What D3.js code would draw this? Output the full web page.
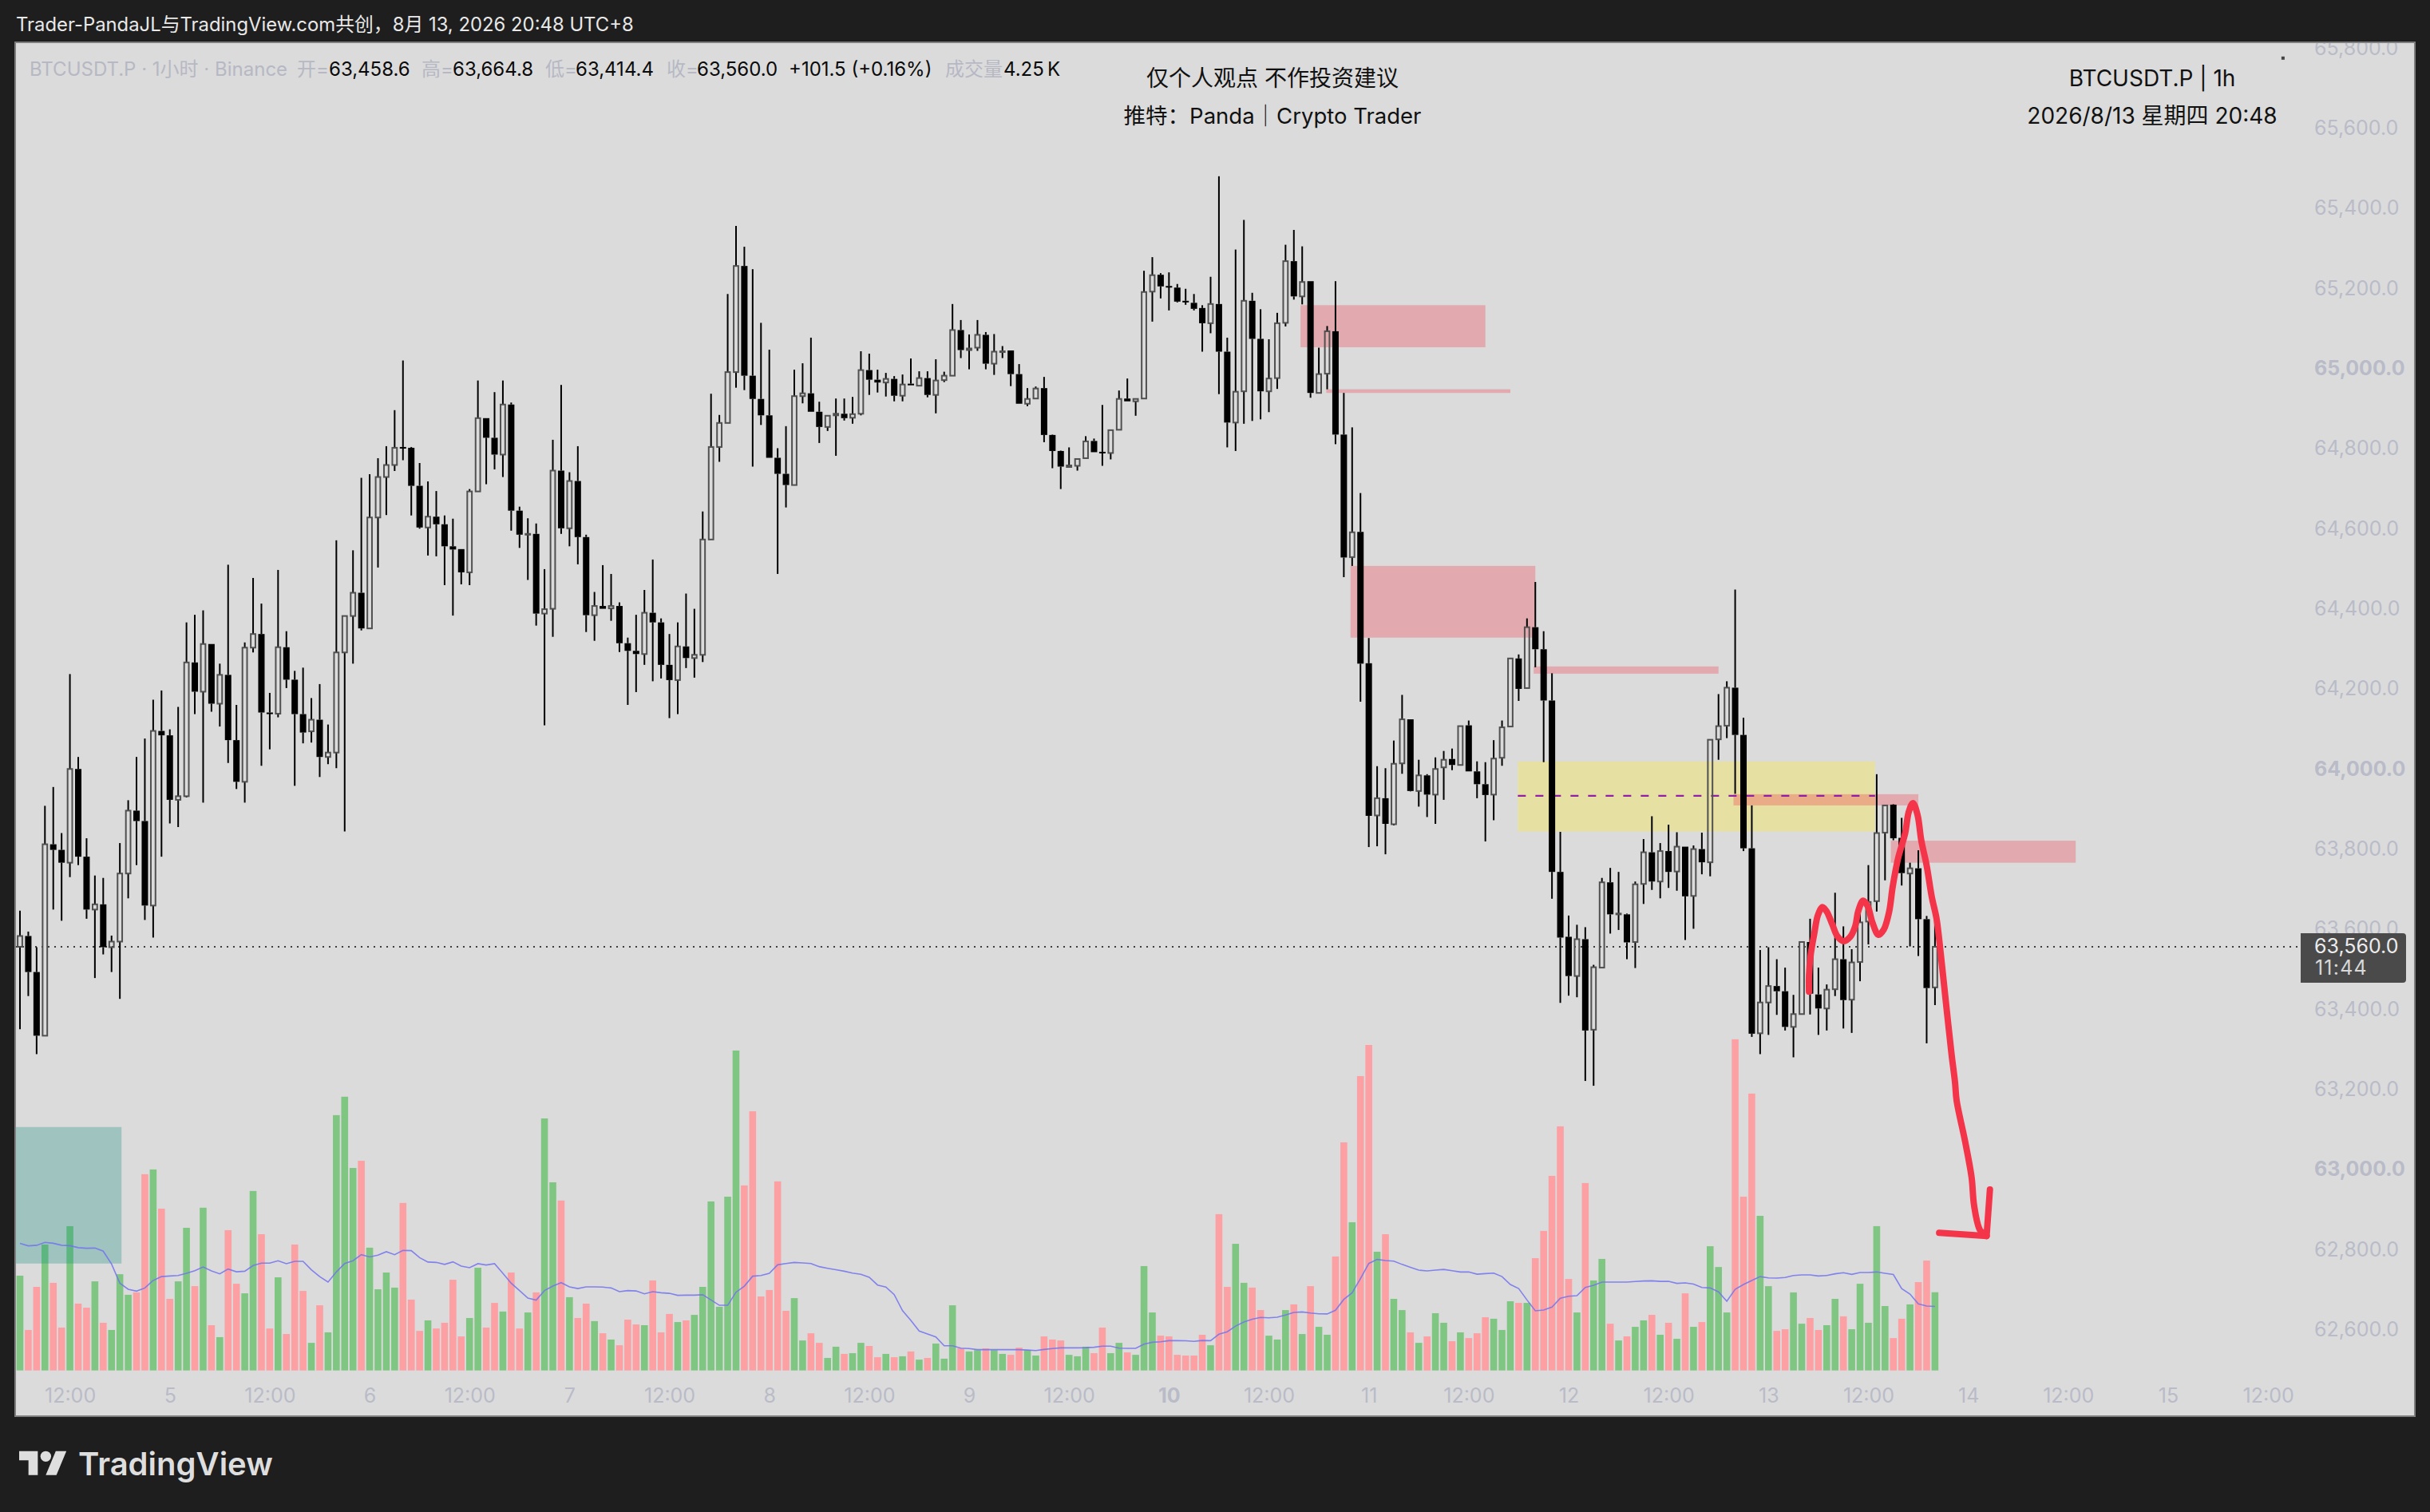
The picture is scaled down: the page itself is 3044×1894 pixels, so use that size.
<!DOCTYPE html>
<html><head><meta charset="utf-8">
<script src="https://cdn.jsdelivr.net/npm/d3@7/dist/d3.min.js"></script>
<style>html,body{margin:0;padding:0;background:#1e1e1e}svg{display:block}text{font-family:Inter,"Noto Sans CJK SC",sans-serif}</style>
</head><body><svg id="c" width="3044" height="1894"></svg>
<script>
const opens=[63560,63587,63497,63338,63816,63802,63770,64004,63785,63653,
63666,63559,63573,63743,63900,63874,63663,64099,64088,63927,
63936,64270,64197,64316,64167,64239,64076,63972,64307,64341,
64145,64142,64308,64227,64141,64098,64127,64034,64045,64295,
64386,64444,64355,64632,64733,64763,64808,64806,64711,64607,
64634,64615,64560,64553,64495,64697,64880,64831,64789,64914,
64649,64589,64591,64392,64404,64749,64605,64723,64583,64388,
64411,64405,64411,64318,64299,64291,64394,64370,64264,64226,
64310,64281,64289,64577,64808,64868,64995,65260,64986,64928,
64887,64781,64741,64713,64935,64942,64896,64858,64887,64891,
64881,64891,65000,64976,64969,64978,64936,64966,64961,64980,
64938,64975,64986,65100,65050,65056,65088,65016,65045,65049,
64990,64916,64929,64955,64838,64798,64758,64761,64780,64823,
64796,64793,64851,64929,64922,64929,65196,65238,65210,65206,
65173,65168,65155,65117,65165,65046,64869,64947,65173,65078,
64947,64980,65118,65272,65184,65222,64943,64991,65097,64839,
64533,64596,64268,63888,63931,63866,64018,64128,63949,63988,
63940,64008,64029,64014,64113,63998,63966,63940,64032,64110,
64280,64206,64358,64303,64175,63747,63585,63487,63579,63353,
63508,63721,63641,63641,63572,63717,63796,63723,63799,63748,
63810,63687,63804,63771,64078,64112,64207,64089,63806,63344,
63421,63462,63449,63360,63392,63572,63441,63406,63454,63529,
63428,63522,63623,63674,63845,63915,63832,63743,63756,63629,
63458.6];
const closes=[63587,63497,63338,63816,63802,63770,64004,63785,63653,63666,
63559,63573,63743,63900,63874,63663,64099,64088,63927,63936,
64270,64197,64316,64167,64239,64076,63972,64307,64341,64145,
64142,64308,64227,64141,64095,64127,64034,64045,64295,64386,
64444,64355,64632,64733,64763,64806,64806,64711,64607,64634,
64615,64560,64552,64495,64697,64880,64831,64789,64914,64649,
64589,64591,64392,64403,64749,64605,64723,64583,64388,64411,
64404,64411,64318,64299,64291,64394,64370,64264,64226,64310,
64281,64289,64577,64808,64868,64995,65260,64986,64928,64887,
64781,64741,64713,64935,64942,64896,64858,64886,64891,64880,
64890,65000,64976,64969,64978,64936,64964,64964,64980,64938,
64974,64986,65100,65050,65054,65088,65016,65046,65047,64990,
64916,64928,64954,64838,64798,64759,64762,64778,64822,64795,
64795,64850,64928,64922,64928,65195,65237,65209,65209,65171,
65172,65153,65117,65165,65046,64869,64946,65173,65078,64947,
64979,65117,65272,65184,65220,64943,64990,65097,64839,64532,
64595,64267,63887,63931,63867,64017,64128,63949,63988,63940,
64004,64027,64014,64111,63998,63966,63939,64030,64108,64280,
64204,64358,64303,64175,63747,63583,63487,63579,63351,63509,
63721,63641,63643,63571,63716,63796,63723,63799,63747,63810,
63686,63804,63771,64077,64111,64207,64089,63806,63343,63421,
63462,63449,63360,63392,63572,63443,63406,63453,63529,63427,
63521,63621,63672,63844,63913,63831,63744,63756,63629,63457,
63560];
const highs=[63650,63598,63559,63912,63959,63844,64241,64034,63831,63738,
63732,63588,63819,63926,64034,64080,64177,64200,64103,64159,
64370,64389,64400,64316,64267,64514,64164,64320,64481,64417,
64194,64501,64348,64249,64257,64181,64216,64115,64575,64386,
64550,64731,64740,64780,64810,64900,65024,64808,64768,64722,
64698,64637,64629,64553,64703,64974,64880,64945,64974,64919,
64659,64630,64617,64503,64826,64963,64745,64810,64589,64446,
64513,64491,64420,64332,64389,64451,64527,64380,64341,64370,
64442,64404,64647,64941,64888,65190,65360,65308,65252,65118,
65051,64805,64860,65001,65017,65081,64921,64886,64929,64929,
64933,65047,65041,65001,64993,64985,64989,65029,64997,64997,
65027,64996,65165,65125,65089,65125,65095,65090,65060,65049,
65015,64955,64959,64983,64839,64799,64807,64778,64835,64829,
64913,64850,64949,64979,64929,65248,65282,65242,65244,65215,
65203,65190,65162,65233,65484,65081,65301,65375,65193,65152,
65077,65143,65313,65350,65309,65222,65056,65110,65222,64943,
64857,64693,64331,64011,64006,64075,64189,64128,64027,63991,
64033,64049,64055,64111,64125,64023,64021,64076,64125,64281,
64290,64380,64471,64348,64243,63847,63638,63615,63609,63515,
63732,63757,63747,63643,63723,63829,63886,63819,63865,63846,
63810,63813,63845,64077,64191,64223,64452,64132,63913,63552,
63559,63529,63508,63440,63573,63630,63508,63466,63695,63611,
63554,63670,63764,63991,63913,63916,63882,63770,63801,63637,
63664.8];
const lows=[63354,63437,63292,63338,63653,63625,63734,63764,63630,63482,
63541,63497,63430,63681,63764,63627,63583,63785,63868,63859,
63933,64141,63920,64147,64110,64019,63954,63920,64295,64012,
64053,64133,64206,63962,64068,64070,63984,64016,64006,63848,
64267,64350,64355,64507,64638,64748,64775,64637,64604,64537,
64535,64463,64387,64465,64463,64697,64715,64752,64733,64599,
64556,64476,64362,64113,64334,64591,64560,64515,64346,64324,
64404,64374,64296,64164,64196,64264,64223,64230,64131,64141,
64256,64232,64271,64577,64771,64868,64956,64950,64759,64863,
64781,64491,64657,64713,64917,64896,64818,64848,64786,64874,
64866,64887,64938,64944,64934,64922,64922,64964,64961,64932,
64892,64970,64986,65030,65002,65048,65002,64988,65030,64960,
64916,64910,64929,64820,64755,64703,64758,64749,64780,64795,
64761,64777,64851,64922,64886,64929,65121,65179,65149,65169,
65163,65149,65046,65092,64940,64807,64798,64866,64873,64877,
64895,64953,65109,65176,65164,64931,64943,64952,64815,64483,
64511,64172,63809,63811,63791,63863,63992,63948,63910,63884,
63867,63927,64001,64014,63998,63931,63823,63876,64012,64110,
64174,64206,64258,64021,63680,63420,63438,63434,63225,63213,
63508,63593,63602,63529,63507,63667,63702,63681,63707,63700,
63577,63605,63741,63736,64027,64081,63942,63799,63335,63292,
63340,63390,63351,63284,63392,63391,63340,63351,63437,63356,
63345,63474,63566,63648,63726,63826,63713,63561,63537,63319,
63414.4];
const volumes=[5.15,2.20,4.54,6.84,4.76,2.33,7.84,3.63,3.41,4.84,
2.59,2.20,5.23,4.11,4.24,10.66,10.92,8.79,3.89,4.84,
7.75,4.58,8.84,2.46,1.81,7.62,4.71,4.19,9.75,7.40,
2.28,5.06,1.98,6.84,4.32,1.50,3.54,2.07,13.87,14.87,
11.00,11.39,6.67,4.41,5.32,4.50,9.10,3.85,2.15,2.72,
2.28,2.59,4.93,1.85,2.85,5.58,2.33,3.67,3.20,5.32,
2.28,3.15,4.24,13.69,10.22,9.23,3.98,2.85,3.63,2.68,
2.02,1.68,1.37,2.76,2.50,2.46,4.89,2.07,3.07,2.63,
2.72,3.02,4.54,9.18,3.46,9.44,17.38,10.05,14.08,4.02,
4.37,10.27,3.24,3.93,1.63,2.02,1.50,0.68,1.29,0.90,
0.94,1.50,1.33,0.72,0.90,0.72,0.77,1.03,0.59,0.68,
1.46,0.64,3.54,1.20,1.03,1.11,1.20,1.11,0.90,0.85,
1.24,1.11,0.81,1.85,1.68,1.63,0.85,0.77,1.29,0.94,
2.33,0.94,1.50,0.98,0.85,5.67,3.15,1.89,1.85,0.85,
0.81,0.81,1.94,1.37,8.49,4.54,6.88,4.76,4.50,3.28,
1.89,1.68,3.28,3.59,1.98,4.58,2.37,1.94,6.19,12.39,
8.05,15.99,17.68,6.45,7.40,3.89,3.28,2.07,1.50,1.85,
3.11,2.59,1.59,2.07,1.76,2.02,2.89,2.81,2.20,3.76,
3.67,3.67,6.10,7.58,10.57,13.26,4.97,3.15,10.18,4.89,
6.06,2.54,1.63,1.85,2.37,2.72,3.02,1.94,2.59,1.72,
4.19,2.37,2.63,6.75,5.62,3.15,17.99,9.44,15.04,8.40,
4.58,2.15,2.24,4.24,2.54,2.85,2.20,2.46,3.89,2.94,
2.24,4.71,2.59,7.84,3.50,1.76,2.81,3.59,4.80,5.97,
4.25];
const volumeMA=[6.90,6.77,6.80,6.96,6.91,6.80,6.78,6.67,6.64,6.65,
6.48,5.78,4.74,4.41,4.31,4.48,4.89,5.10,5.13,5.16,
5.28,5.42,5.62,5.41,5.25,5.51,5.36,5.39,5.70,5.83,
5.83,5.96,5.80,5.93,5.93,5.47,5.10,4.80,5.35,5.81,
5.96,6.29,6.17,6.26,6.45,6.29,6.52,6.51,6.13,5.89,
5.87,5.76,5.90,5.67,5.58,5.80,5.73,5.80,5.28,4.74,
4.34,3.93,3.82,4.34,4.58,4.77,4.54,4.45,4.54,4.54,
4.53,4.48,4.28,4.34,4.32,4.16,4.28,4.22,4.19,4.08,
4.09,4.09,4.11,3.83,3.54,3.54,4.25,4.58,5.12,5.16,
5.28,5.74,5.81,5.87,5.84,5.81,5.64,5.55,5.47,5.39,
5.29,5.22,5.06,4.64,4.53,4.12,3.25,2.72,2.14,1.98,
1.82,1.34,1.34,1.21,1.19,1.13,1.13,1.13,1.13,1.13,
1.13,1.11,1.08,1.14,1.19,1.23,1.23,1.23,1.24,1.26,
1.32,1.32,1.21,1.20,1.20,1.43,1.53,1.56,1.62,1.62,
1.61,1.58,1.63,1.62,1.97,2.10,2.41,2.63,2.78,2.88,
2.86,2.89,3.01,3.15,3.18,3.12,3.08,3.07,3.27,3.86,
4.22,4.99,5.81,6.03,5.97,5.94,5.76,5.60,5.45,5.41,
5.45,5.49,5.42,5.35,5.35,5.23,5.26,5.29,5.10,4.67,
4.45,3.83,3.24,3.28,3.44,3.92,4.03,4.06,4.51,4.63,
4.80,4.80,4.80,4.80,4.83,4.86,4.87,4.84,4.84,4.73,
4.76,4.69,4.51,4.48,4.27,3.76,4.41,4.67,4.89,5.10,
5.03,5.02,5.05,5.16,5.19,5.19,5.13,5.16,5.25,5.31,
5.22,5.32,5.32,5.35,5.28,5.21,4.45,4.15,3.62,3.50,
3.48];
const priceTicks=[65800,65600,65400,65200,65000,64800,64600,64400,64200,64000,63800,63600,63400,63200,63000,62800,62600];
const boldPrices=[65000,64000,63000];
const timeTickIdx=[6,18,30,42,54,66,78,90,102,114,126,138,150,162,174,186,198,210,222,234,246,258,270];
const timeTickLabels=["12:00","5","12:00","6","12:00","7","12:00","8","12:00","9","12:00","10","12:00","11","12:00","12","12:00","13","12:00","14","12:00","15","12:00"];
const boldTime=["10"];
const lastPrice=63560;
// zones: [start bar, end bar, top price, bottom price]
const tealZones=[[-0.5,12.2,63110,62769]];
const yellowZones=[[179.9,222.8,64023,63848]];
const pinkZones=[[153.8,176,65162,65057],[156.9,179,64952,64943],[159.8,182,64511,64332],[181.8,204,64260,64242],[205.8,228,63941,63913],[224.7,246.9,63825,63770]];
const dashedLevel=[179.9,222.8,63937];
const brushBars=[214.87,214.87,215.08,215.51,215.94,216.49,217,217.65,218.29,219.06,219.79,220.43,220.77,221.37,221.93,222.48,223.21,223.85,224.5,224.92,225.57,226.42,226.85,227.36,227.92,228.35,228.99,229.63,230.19,230.7,231.34,231.99,232.41,232.6,233.6,234.4,234.7,235.4,236.2];
const brushPrices=[63448,63488,63541,63594,63639,63659,63648,63617,63586,63574,63584,63612,63648,63675,63661,63621,63590,63603,63648,63710,63781,63844,63897,63919,63888,63826,63764,63683,63630,63541,63416,63292,63221,63176,63076,62984,62914,62853,62838];
const arrowBars=[236.6,236.2,230.5];
const arrowPrices=[62954,62838,62846];
const dotMark=[271.8,65779];

const svg=d3.select("#c");
const X0=20,X1=3024,Y0=54,Y1=1773;
const x=d3.scaleLinear().domain([0,230]).range([25,2423.9]);
const y=d3.scaleLinear().domain([63560,65600]).range([1186,1186-2040*0.50167]);
const v=d3.scaleLinear().domain([0,10]).range([1716.7,1716.7-230.6]);
const UP="#505050",DN="#000";
const isUp=i=>closes[i]>=opens[i];
const idx=d3.range(opens.length);

const defs=svg.append("defs");
defs.append("clipPath").attr("id","plot").append("rect").attr("x",X0).attr("y",Y0).attr("width",X1-X0).attr("height",Y1-Y0);
svg.append("rect").attr("width",3044).attr("height",1894).attr("fill","#1e1e1e");
svg.append("rect").attr("x",X0-1).attr("y",Y0-1).attr("width",X1-X0+2).attr("height",Y1-Y0+2).attr("fill","#dbdbdb").attr("stroke","#7e7e7e").attr("stroke-width",2);
const g=svg.append("g").attr("clip-path","url(#plot)");

// volume
g.append("g").selectAll("rect").data(idx).join("rect")
 .attr("x",i=>x(i)-4.3).attr("width",8.6)
 .attr("y",i=>v(volumes[i])).attr("height",i=>v(0)-v(volumes[i]))
 .attr("fill",i=>isUp(i)?"#80c683":"#fca0a4");

// zones
function zones(list,color,op){
 g.append("g").selectAll("rect").data(list).join("rect")
  .attr("x",d=>x(d[0])).attr("width",d=>x(d[1])-x(d[0]))
  .attr("y",d=>y(d[2])).attr("height",d=>y(d[3])-y(d[2]))
  .attr("fill",color).attr("fill-opacity",op);
}
zones(tealZones,"#00897b",.27);
zones(yellowZones,"#ffeb3b",.35);

// volume MA
g.append("path").datum(idx).attr("fill","none").attr("stroke","#7272ee").attr("stroke-opacity",.85).attr("stroke-width",1.6)
 .attr("d",d3.line().x(i=>x(i)).y(i=>v(volumeMA[i])));

zones(pinkZones,"#f23645",.3);
g.append("line").attr("x1",x(dashedLevel[0])).attr("x2",x(dashedLevel[1])).attr("y1",y(dashedLevel[2])).attr("y2",y(dashedLevel[2]))
 .attr("stroke","#8e1fa6").attr("stroke-width",2.2).attr("stroke-dasharray","10 12");

// last price dotted line
g.append("line").attr("x1",X0).attr("x2",2882).attr("y1",y(lastPrice)).attr("y2",y(lastPrice))
 .attr("stroke","#3c3c3c").attr("stroke-width",2).attr("stroke-dasharray","2 6");

// candles
const c=g.append("g");
c.selectAll(".w1").data(idx).join("line").attr("x1",i=>x(i)).attr("x2",i=>x(i)).attr("y1",i=>y(highs[i])).attr("y2",i=>y(Math.max(opens[i],closes[i]))).attr("stroke","#000").attr("stroke-width",2);
c.selectAll(".w2").data(idx).join("line").attr("x1",i=>x(i)).attr("x2",i=>x(i)).attr("y1",i=>y(Math.min(opens[i],closes[i]))).attr("y2",i=>y(lows[i])).attr("stroke","#000").attr("stroke-width",2);
c.selectAll(".b").data(idx).join("rect")
 .attr("x",i=>x(i)-(isUp(i)?2.9:4)).attr("width",i=>isUp(i)?5.8:8)
 .attr("y",i=>y(Math.max(opens[i],closes[i])))
 .attr("height",i=>Math.max(isUp(i)?1:2,Math.abs(y(opens[i])-y(closes[i]))))
 .attr("fill",i=>isUp(i)?"none":DN)
 .attr("stroke",i=>isUp(i)?UP:"none").attr("stroke-width",2);

// brush
const brush=d3.line().curve(d3.curveCatmullRom);
g.append("path").attr("d",brush(brushBars.map((b,i)=>[x(b),y(brushPrices[i])]))).attr("fill","none").attr("stroke","#f43549").attr("stroke-width",8).attr("stroke-linecap","round").attr("stroke-linejoin","round");
g.append("path").attr("d",d3.line()(arrowBars.map((b,i)=>[x(b),y(arrowPrices[i])]))).attr("fill","none").attr("stroke","#f43549").attr("stroke-width",8).attr("stroke-linecap","round").attr("stroke-linejoin","round");
g.append("rect").attr("x",x(dotMark[0])-2).attr("y",y(dotMark[1])-2).attr("width",4).attr("height",4).attr("fill","#444");

// axes
const LAB="#b9bbc8";
const ya=d3.axisRight(y).tickValues(priceTicks).tickSize(0).tickPadding(0).tickFormat(d3.format(",.1f"));
const yg=g.append("g").attr("transform","translate(2899,-2.2)").call(ya);
yg.select(".domain").remove();
yg.selectAll("text").attr("fill",LAB).attr("font-size",25).attr("x",0)
 .attr("font-weight",d=>boldPrices.includes(d)?700:400).style("font-family","Inter,sans-serif");
const xa=d3.axisBottom(x).tickValues(timeTickIdx).tickSize(0).tickPadding(0).tickFormat((d,i)=>timeTickLabels[i]);
const xg=g.append("g").attr("transform","translate(0,1748)").call(xa);
xg.select(".domain").remove();
xg.selectAll("text").attr("fill",LAB).attr("font-size",25).attr("y",0).attr("dy",".35em")
 .attr("font-weight",(d,i)=>boldTime.includes(timeTickLabels[i])?700:400);

// last price tag
const tagY=y(lastPrice);
svg.append("path").attr("d",`M2882 ${tagY-17}H3010a4 4 0 0 1 4 4V${tagY+41}a4 4 0 0 1 -4 4H2882Z`).attr("fill","#4a4a4a");
svg.append("text").attr("x",2899).attr("y",tagY-1).attr("dy",".35em").attr("font-size",25).attr("fill","#ececec").text(d3.format(",.1f")(lastPrice));
svg.append("text").attr("x",2900).attr("y",tagY+26).attr("dy",".35em").attr("font-size",25).attr("letter-spacing",1.2).attr("fill","#d8d8d8").text("11:44");

// texts
function t(px,py,s,size,fill,anchor){return svg.append("text").attr("x",px).attr("y",py).attr("dy",".35em").attr("font-size",size).attr("fill",fill).attr("text-anchor",anchor||"start").text(s);}
t(20,31,"Trader-PandaJL与TradingView.com共创，8月 13, 2026 20:48 UTC+8",23.85,"#e8e8e8");
const G2="#b6b8c4",K="#0a0a0a";
[[37,"BTCUSDT.P · 1小时 · Binance",G2],[372,"开=",G2],[412,"63,458.6",K],[528,"高=",G2],[567,"63,664.8",K],[683,"低=",G2],[721,"63,414.4",K],[835,"收=",G2],[873,"63,560.0",K],[988,"+101.5 (+0.16%)",K],[1184,"成交量",G2],[1257,"4.25",K],[1312,"K",K]]
 .forEach(d=>t(d[0],87,d[1],24,d[2]));
t(1594,98,"仅个人观点 不作投资建议",28,"#111","middle");
t(1594,145,"推特：Panda｜Crypto Trader",27.5,"#111","middle");
t(2696,98,"BTCUSDT.P | 1h",28,"#111","middle");
t(2696,145,"2026/8/13 星期四 20:48",28,"#111","middle");

// footer logo
const logo=svg.append("g").attr("transform","translate(24,1811) scale(1.667)").attr("fill","#dedede");
logo.append("path").attr("d","M14 22H7V11H0V4h14v18zM28 22h-8l7.5-18h8L28 22z");
logo.append("circle").attr("cx",20).attr("cy",8).attr("r",4);
svg.append("text").attr("x",98).attr("y",1848).attr("font-size",40).attr("font-weight",600).attr("fill","#dedede").text("TradingView");
</script></body></html>
